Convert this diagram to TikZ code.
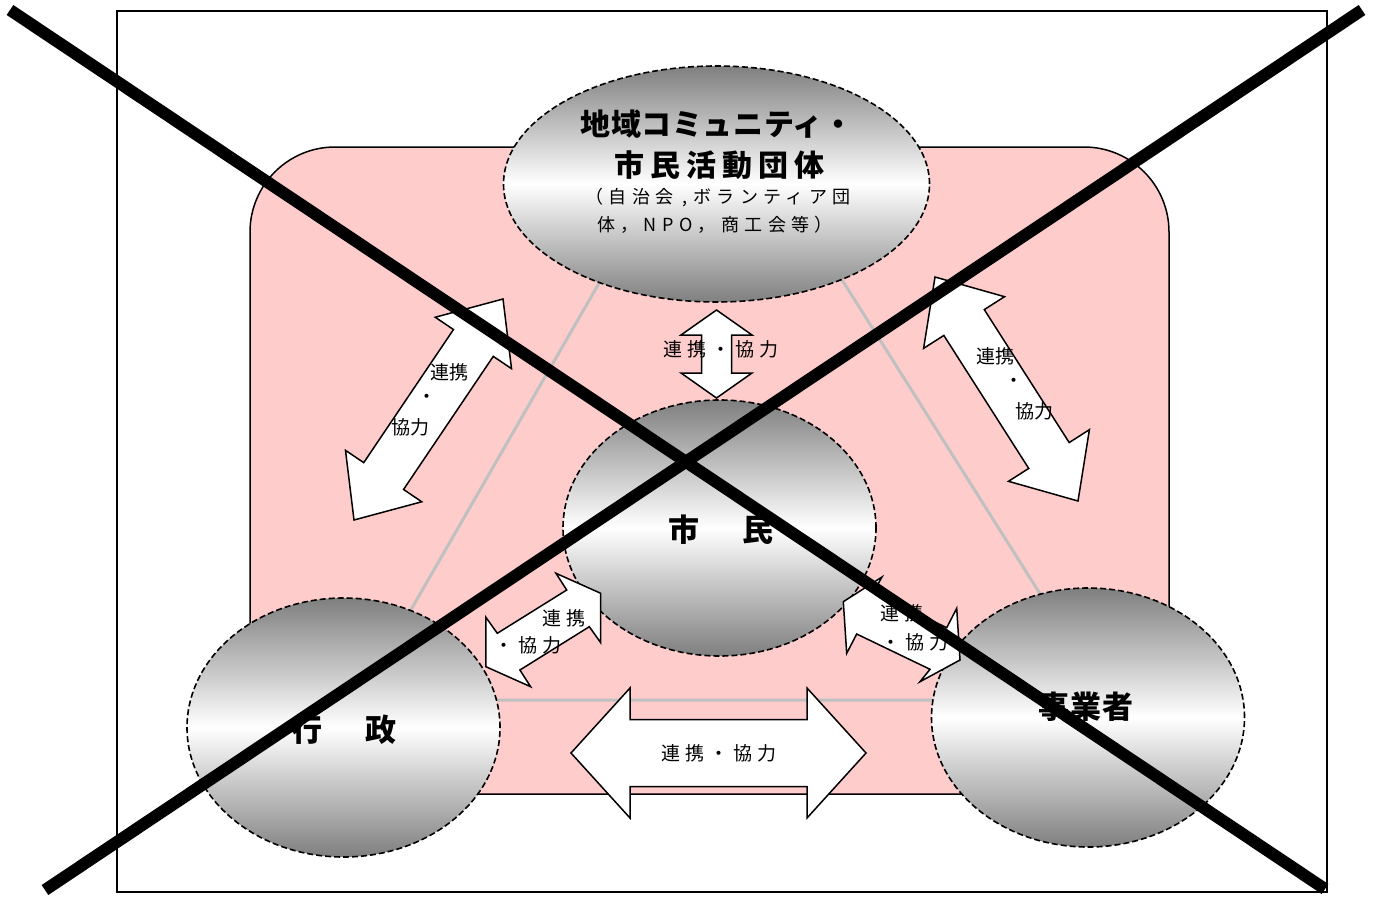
\documentclass[tikz,border=0pt]{standalone}
\usepackage{fontspec}
\setmainfont{Noto Sans CJK JP}
\usetikzlibrary{calc,shapes.geometric}
\definecolor{zonepink}{HTML}{FFCCCC}
\definecolor{linkgray}{HTML}{C0C0C0}

% size and letter spacing for the Japanese labels
\newcommand{\jpfont}[2]{\fontsize{#1}{#1}\selectfont\addfontfeature{LetterSpace=#2}}
% straight two-way block arrow: tips #1,#2; head length #3, head half width #4, shaft half width #5
\newcommand{\twoway}[5]{%
  \draw[blockarrow] (#1)
    -- ($(#1)!#3!(#2)!#4!90:(#2)$) -- ($(#1)!#3!(#2)!#5!90:(#2)$)
    -- ($(#2)!#3!(#1)!#5!-90:(#1)$) -- ($(#2)!#3!(#1)!#4!-90:(#1)$)
    -- (#2)
    -- ($(#2)!#3!(#1)!#4!90:(#1)$) -- ($(#2)!#3!(#1)!#5!90:(#1)$)
    -- ($(#1)!#3!(#2)!#5!-90:(#2)$) -- ($(#1)!#3!(#2)!#4!-90:(#2)$)
    -- cycle;}

\begin{document}
\begin{tikzpicture}[x=1pt,y=-1pt,
party/.style={ellipse,draw,line width=1.6pt,dash pattern=on 6pt off 3pt,
  top color=black!50,bottom color=black!50,middle color=white,inner sep=0pt},
blockarrow/.style={draw,fill=white,line width=1.5pt,line join=miter},
tag/.style={inner sep=0pt,font={\jpfont{19}{26}}},
plaintag/.style={inner sep=0pt,font={\jpfont{19}{0}}},
partyname/.style={inner sep=0pt,font={\bfseries\jpfont{31}{18}}}]
\useasboundingbox (0,0) rectangle (1380,899);
\draw[line width=2pt] (117,11) rectangle (1327,892);
\draw[fill=zonepink,line width=1.5pt,rounded corners=85pt] (250,147) rectangle (1169,794);
\draw[linkgray,line width=3pt] (716,80) -- (359,700) -- (1107,700) -- cycle;

% the four parties
\node[party,minimum width=426pt,minimum height=236pt] (group) at (716.5,184) {};
\node[party,minimum width=313pt,minimum height=256pt] (citizens) at (719.5,528) {};
\node[party,minimum width=313pt,minimum height=259pt] (gov) at (343.5,727.5) {};
\node[party,minimum width=313pt,minimum height=259pt] (biz) at (1088,717.5) {};

\node[inner sep=0pt,font={\bfseries\jpfont{30}{2}}] (grouptitle) at (717,124) {地域コミュニティ・};
\node[inner sep=0pt,font={\bfseries\jpfont{30}{20}}] (groupkind) at (719,165) {市民活動団体};
\node[inner sep=0pt,font={\jpfont{18}{30}}] (groupex1) at (718,198) {（自治会 ,ボランティア団};
\node[inner sep=0pt,font={\jpfont{18}{30}}] (groupex2) at (715,225) {体，NPO，商工会等）};
\node[partyname] (citizenstext) at (721,530) {市　民};
\node[partyname] (govtext) at (344,730) {行　政};
\node[partyname,font={\bfseries\jpfont{31}{3}}] (biztext) at (1086,707) {事業者};

% links between the parties
\coordinate (topA) at (716.5,310);   \coordinate (topB) at (716.5,398);
\coordinate (botA) at (571,753);     \coordinate (botB) at (866,753);
\coordinate (leftA) at (503,299);    \coordinate (leftB) at (354,520);
\coordinate (rightA) at (935,277);   \coordinate (rightB) at (1078,501);
\twoway{topA}{topB}{25pt}{35.5pt}{15pt}
\twoway{botA}{botB}{59pt}{65pt}{33.5pt}
\twoway{leftA}{leftB}{53pt}{46pt}{24pt}
\twoway{rightA}{rightB}{54pt}{48pt}{24pt}
\draw[blockarrow] (556,573.3) -- (600.7,593.3) -- (600.7,642.7) -- (589.3,626.7)
  -- (519.9,670) -- (530.6,686.7) -- (485.9,666.7) -- (485.9,617.3)
  -- (497.3,633.3) -- (566.7,590) -- cycle;
\draw[blockarrow] (843.3,601.7) -- (846.7,653.3) -- (856.7,634) -- (930,669.3)
  -- (920,681.7) -- (960,660) -- (956.7,608.3) -- (946.7,627.7)
  -- (873.3,592.3) -- (882,577) -- cycle;

\node[tag] (toplabel) at (721,349) {連携・協力};
\node[tag] (botlabel) at (719,753) {連携・協力};
\node[plaintag] (leftlabel1) at (449,372) {連携};
\node[plaintag] (leftlabel2) at (427,399) {・};
\node[plaintag] (leftlabel3) at (410,427) {協力};
\node[plaintag] (rightlabel1) at (995,356) {連携};
\node[plaintag] (rightlabel2) at (1014,383) {・};
\node[plaintag] (rightlabel3) at (1034,411) {協力};
\node[tag] (govlabel1) at (564,618) {連携};
\node[tag] (govlabel2) at (528,645) {・協力};
\node[tag] (bizlabel1) at (902,613) {連携};
\node[tag] (bizlabel2) at (915,642) {・協力};

% crossed out
\draw[line width=12pt] (10,10) -- (1325,889);
\draw[line width=12pt] (1362,10) -- (45,890);
\end{tikzpicture}
\end{document}
